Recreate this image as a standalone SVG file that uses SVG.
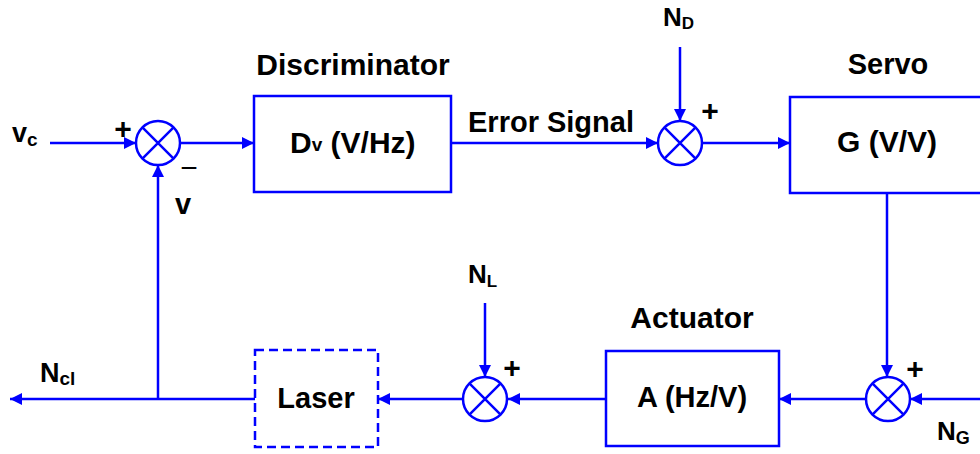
<svg xmlns="http://www.w3.org/2000/svg" width="980" height="454" viewBox="0 0 980 454">
<defs>
<style>
.ln{stroke:#0000FF;stroke-width:2.5;fill:none}
.bx{stroke:#0000FF;stroke-width:2.5;fill:#FFFFFF}
.sj{stroke:#0000FF;stroke-width:2.5;fill:#FFFFFF}
.t{font-family:"Liberation Sans",Arial,sans-serif;font-weight:bold;fill:#000000}
.pl{font-size:30px;text-anchor:middle}
</style>
<marker id="ah" viewBox="0 0 12 12" markerWidth="12" markerHeight="12" refX="12" refY="6" orient="auto" markerUnits="userSpaceOnUse">
<path d="M0,0 L12,6 L0,12 Z" fill="#0000FF"/>
</marker>
</defs>
<rect width="980" height="454" fill="#FFFFFF"/>

<g id="connectors">
<line class="ln" x1="50" y1="143" x2="136" y2="143" marker-end="url(#ah)"/>
<line class="ln" x1="180" y1="143" x2="254" y2="143" marker-end="url(#ah)"/>
<line class="ln" x1="451" y1="143" x2="658" y2="143" marker-end="url(#ah)"/>
<line class="ln" x1="680" y1="47" x2="680" y2="121" marker-end="url(#ah)"/>
<line class="ln" x1="702" y1="143" x2="790" y2="143" marker-end="url(#ah)"/>
<line class="ln" x1="887" y1="193" x2="887" y2="377" marker-end="url(#ah)"/>
<line class="ln" x1="982" y1="399" x2="910" y2="399" marker-end="url(#ah)"/>
<line class="ln" x1="865" y1="399" x2="779" y2="399" marker-end="url(#ah)"/>
<line class="ln" x1="606" y1="399" x2="508" y2="399" marker-end="url(#ah)"/>
<line class="ln" x1="485" y1="303" x2="485" y2="377" marker-end="url(#ah)"/>
<line class="ln" x1="463" y1="399" x2="378" y2="399" marker-end="url(#ah)"/>
<line class="ln" x1="255" y1="399" x2="10" y2="399" marker-end="url(#ah)"/>
<line class="ln" x1="158" y1="399" x2="158" y2="165" marker-end="url(#ah)"/>
</g>

<g id="sum1">
<circle class="sj" cx="158" cy="143" r="22"/>
<path class="ln" d="M142.4,127.4 L173.6,158.6 M173.6,127.4 L142.4,158.6"/>
<text class="t pl" x="123" y="139">+</text>
<text class="t" x="189" y="178" style="font-size:30px;font-weight:normal" text-anchor="middle">−</text>
<text class="t" x="175" y="214" font-size="29">v</text>
</g>

<g id="input-vc">
<text class="t" x="12" y="142" font-size="27">v<tspan font-size="19" dy="4">c</tspan></text>
</g>

<g id="discriminator">
<text class="t" x="353" y="75" font-size="30" text-anchor="middle">Discriminator</text>
<rect class="bx" x="254" y="96" width="197" height="96"/>
<text class="t" x="290" y="153" font-size="30">D<tspan font-size="19" dy="-2">v</tspan><tspan dy="2"> (V/Hz)</tspan></text>
</g>

<g id="error-label">
<text class="t" x="468" y="132" font-size="29">Error Signal</text>
</g>

<g id="sum-nd">
<circle class="sj" cx="680" cy="143" r="22"/>
<path class="ln" d="M664.4,127.4 L695.6,158.6 M695.6,127.4 L664.4,158.6"/>
<text class="t pl" x="710" y="121">+</text>
<text class="t" x="663" y="26" font-size="26">N<tspan font-size="17" dy="3">D</tspan></text>
</g>

<g id="servo">
<text class="t" x="888" y="74" font-size="29" text-anchor="middle">Servo</text>
<rect class="bx" x="790" y="97" width="200" height="96"/>
<text class="t" x="837" y="152" font-size="30">G (V/V)</text>
</g>

<g id="sum-ng">
<circle class="sj" cx="888" cy="399" r="22"/>
<path class="ln" d="M872.4,383.4 L903.6,414.6 M903.6,383.4 L872.4,414.6"/>
<text class="t pl" x="915" y="379">+</text>
<text class="t" x="937" y="440" font-size="26">N<tspan font-size="18" dy="4">G</tspan></text>
</g>

<g id="actuator">
<text class="t" x="692" y="328" font-size="30" text-anchor="middle">Actuator</text>
<rect class="bx" x="606" y="351" width="173" height="95"/>
<text class="t" x="692" y="407" font-size="29" text-anchor="middle">A (Hz/V)</text>
</g>

<g id="sum-nl">
<circle class="sj" cx="485" cy="399" r="22"/>
<path class="ln" d="M469.4,383.4 L500.6,414.6 M500.6,383.4 L469.4,414.6"/>
<text class="t pl" x="512" y="378">+</text>
<text class="t" x="468" y="283" font-size="26">N<tspan font-size="17" dy="4">L</tspan></text>
</g>

<g id="laser">
<rect x="255" y="350" width="123" height="97" fill="#FFFFFF" stroke="#0000FF" stroke-width="2.5" stroke-dasharray="9 5"/>
<text class="t" x="316" y="408" font-size="29" text-anchor="middle">Laser</text>
</g>

<g id="output-ncl">
<text class="t" x="40" y="382" font-size="27">N<tspan font-size="19" dy="3">cl</tspan></text>
</g>
</svg>
